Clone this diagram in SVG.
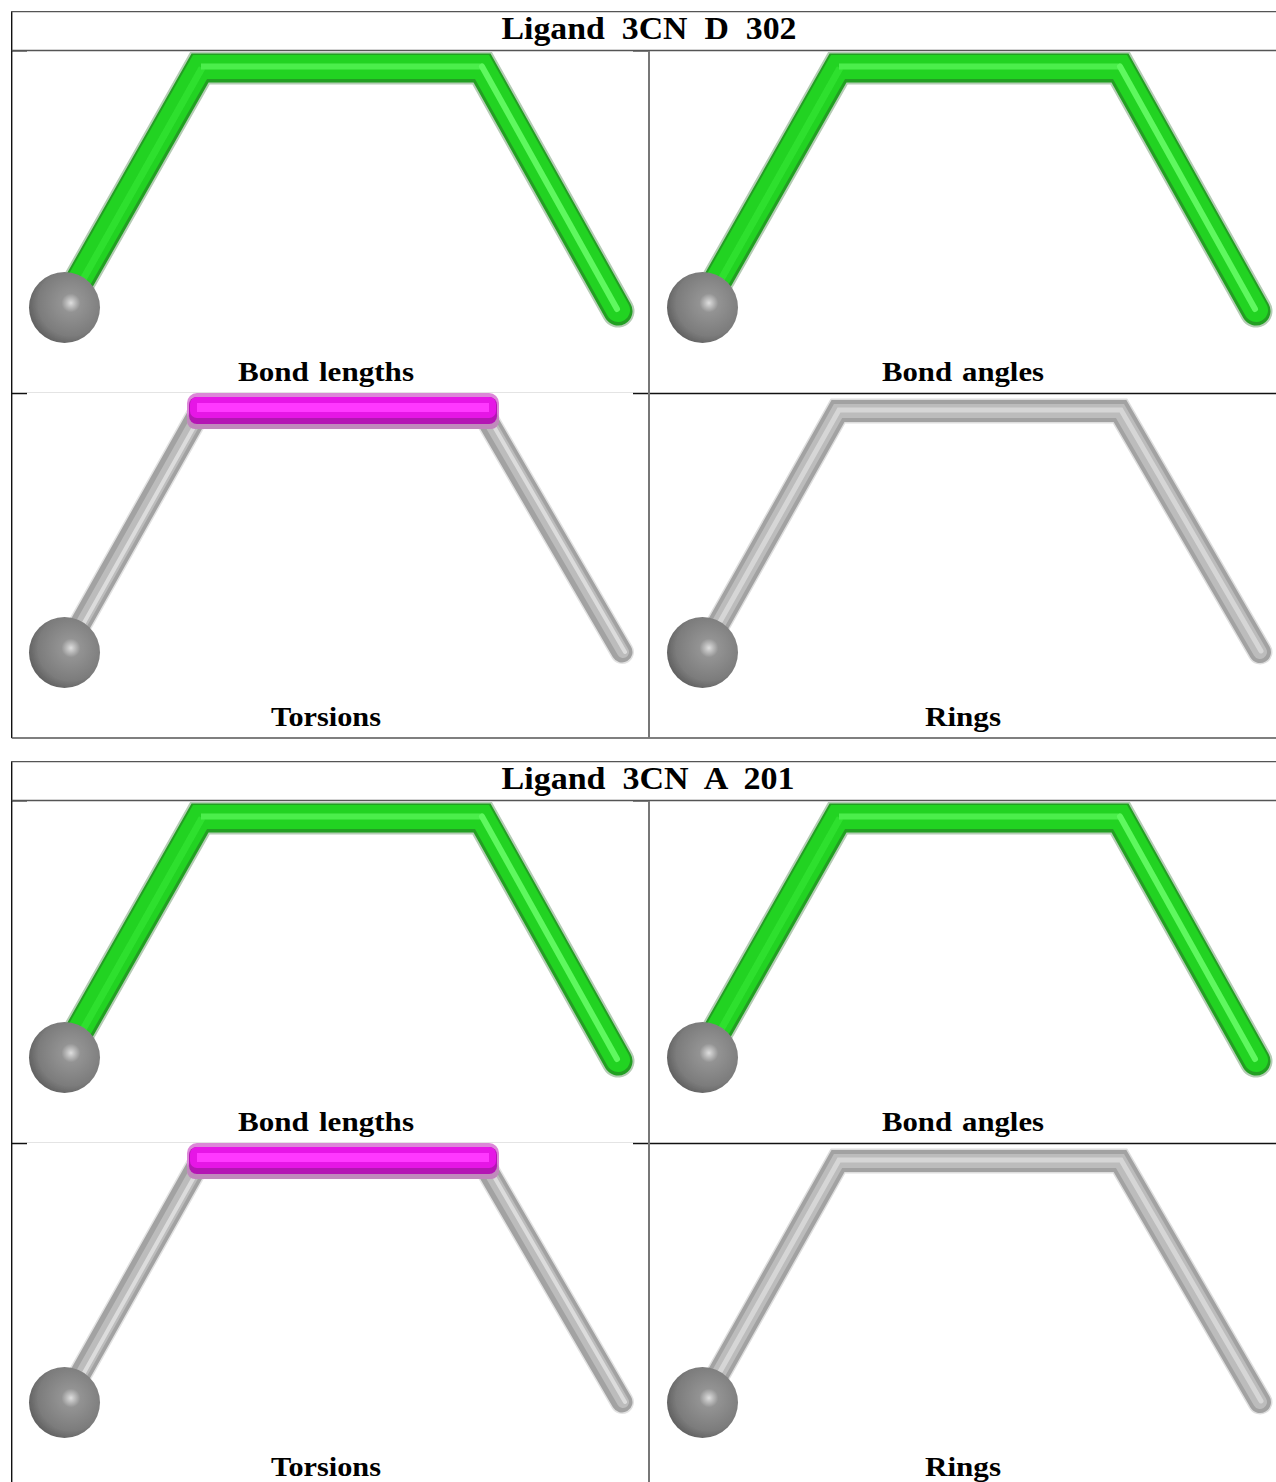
<svg xmlns="http://www.w3.org/2000/svg" width="1276" height="1482" viewBox="0 0 1276 1482">
<style>
text{font-family:"Liberation Serif","Times New Roman",serif;font-weight:700;fill:#000;text-anchor:middle}
.t{font-size:32px;word-spacing:8px}.c{font-size:27px;word-spacing:2px}
.l{stroke:#555;stroke-width:1.3;fill:none}
.v{stroke:#777;stroke-width:2;fill:none}
.k{stroke:#111;stroke-width:1.4;fill:none}
.s{fill:none;stroke-linejoin:miter;stroke-linecap:round}
.g0{stroke:#b4ccb4;stroke-width:33}.g1{stroke:#229f22;stroke-width:29}.g2{stroke:#22d322;stroke-width:24}
.ga{stroke:#2fe02f;stroke-width:7;stroke-linecap:butt}.gb{stroke:#4cee4c;stroke-width:6;stroke-linecap:butt}.gc{stroke:#5ef85e;stroke-width:6}
.y0{stroke:#dedede;stroke-width:25}.y1{stroke:#a2a2a2;stroke-width:22}.y2{stroke:#bcbcbc;stroke-width:14}.y3{stroke:#d6d6d6;stroke-width:5}
.yt0{stroke:#e2e2e2;stroke-width:24}.yt1{stroke:#a2a2a2;stroke-width:21}.yt2{stroke:#bcbcbc;stroke-width:12}.yt3{stroke:#dcdcdc;stroke-width:4}
</style>
<defs>
<filter id="soft" x="-5%" y="-5%" width="110%" height="110%"><feGaussianBlur stdDeviation="0.7"/></filter>
<radialGradient id="ball" cx="0.59" cy="0.436" r="0.66">
<stop offset="0" stop-color="#dedede"/><stop offset="0.1" stop-color="#b8b8b8"/><stop offset="0.2" stop-color="#939393"/><stop offset="0.7" stop-color="#7c7c7c"/><stop offset="1" stop-color="#565656"/>
</radialGradient>
<path id="mol" d="M64 308L200 68L482 68L618 311"/>
<path id="molT" d="M64 653L200 411L482 411L622 652"/>
<circle id="ballA" r="35.5" fill="url(#ball)"/>
<g id="greenMol" class="s" filter="url(#soft)">
<use href="#mol" class="g0"/><use href="#mol" class="g1"/><use href="#mol" class="g2" transform="translate(0,-1)"/>
<path class="ga" d="M68 306L202 68"/>
<path class="gb" d="M201 66.500H482"/>
<path class="gc" d="M482 66.500L617 309"/>
<use href="#ballA" x="64.500" y="307.500"/>
</g>
<g id="torsionMol" class="s" filter="url(#soft)">
<use href="#molT" class="yt0"/><use href="#molT" class="yt1"/><use href="#molT" class="yt2" transform="translate(1,0)"/><use href="#molT" class="yt3" transform="translate(3,0)"/>
<rect x="187" y="393" width="312" height="36" rx="10" fill="#dc86d8" stroke="none"/>
<rect x="187" y="411" width="312" height="18" rx="8" fill="#c08abc" stroke="none"/>
<rect x="189" y="397" width="308" height="27" rx="8" fill="#b414b4" stroke="none"/>
<rect x="190" y="397" width="306" height="21" rx="7" fill="#e614e6" stroke="none"/>
<rect x="197" y="403" width="292" height="9" fill="#ff38ff" stroke="none"/>
<use href="#ballA" x="64.500" y="652.500"/>
</g>
<g id="ringMol" class="s" filter="url(#soft)">
<use href="#molT" class="y0"/><use href="#molT" class="y1"/><use href="#molT" class="y2"/><use href="#molT" class="y3" transform="translate(1,-1)"/>
<use href="#ballA" x="64.500" y="652.500"/>
</g>
<g id="frame">
<path class="k" d="M12 393.500H27M633 393.500H1276"/>
<path d="M27 392.500H633" stroke="#e4e4e4" stroke-width="1" fill="none"/>
<path d="M12 51.500H27M633 51.500H649" stroke="#888" stroke-width="1" fill="none"/>
<path class="k" d="M11.700 11.700V738"/>
<path class="l" d="M11 11.700H1276M11.700 50.500H1276M11.700 738H1276"/>
<path class="v" d="M649 51V738"/>
</g>
</defs>
<rect width="1276" height="1482" fill="#fff"/>

<g id="table-d302">
<use href="#frame"/>
<text id="title-d302" class="t" x="649" y="39" textLength="295" lengthAdjust="spacingAndGlyphs">Ligand 3CN D 302</text>
<g id="d302-bond-lengths"><use href="#greenMol"/><text class="c" x="326" y="381" textLength="176" lengthAdjust="spacingAndGlyphs">Bond lengths</text></g>
<g id="d302-bond-angles"><use href="#greenMol" x="638"/><text class="c" x="963" y="381" textLength="162" lengthAdjust="spacingAndGlyphs">Bond angles</text></g>
<g id="d302-torsions"><use href="#torsionMol"/><text class="c" x="326" y="726" textLength="110" lengthAdjust="spacingAndGlyphs">Torsions</text></g>
<g id="d302-rings"><use href="#ringMol" x="638"/><text class="c" x="963" y="726" textLength="76" lengthAdjust="spacingAndGlyphs">Rings</text></g>
</g>

<g id="table-a201">
<use href="#frame" y="750"/>
<text id="title-a201" class="t" x="648" y="789" textLength="293" lengthAdjust="spacingAndGlyphs">Ligand 3CN A 201</text>
<g id="a201-bond-lengths"><use href="#greenMol" y="750"/><text class="c" x="326" y="1131" textLength="176" lengthAdjust="spacingAndGlyphs">Bond lengths</text></g>
<g id="a201-bond-angles"><use href="#greenMol" x="638" y="750"/><text class="c" x="963" y="1131" textLength="162" lengthAdjust="spacingAndGlyphs">Bond angles</text></g>
<g id="a201-torsions"><use href="#torsionMol" y="750"/><text class="c" x="326" y="1476" textLength="110" lengthAdjust="spacingAndGlyphs">Torsions</text></g>
<g id="a201-rings"><use href="#ringMol" x="638" y="750"/><text class="c" x="963" y="1476" textLength="76" lengthAdjust="spacingAndGlyphs">Rings</text></g>
</g>
<g id="connectors"/>
</svg>
